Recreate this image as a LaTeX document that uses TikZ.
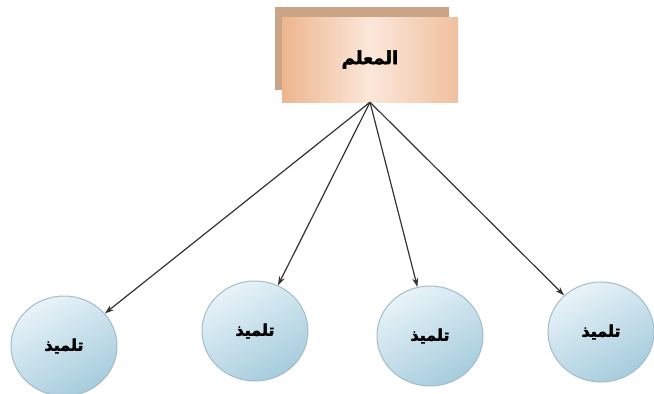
\documentclass[tikz,border=0pt]{standalone}
\usepackage{fontspec}
\newfontfamily\arabicfont[Script=Arabic,FakeBold=2.5]{DejaVu Sans}
\TeXXeTstate=1
\usetikzlibrary{shapes.geometric, arrows.meta,positioning}
\definecolor{boxlight}{HTML}{FBE7DA}
\definecolor{boxdark}{HTML}{EDB58E}
\definecolor{backtan}{HTML}{C9A486}
\definecolor{balllight}{HTML}{E8F3F8}
\definecolor{balldark}{HTML}{A6CCDD}
\definecolor{ballline}{HTML}{A3BCC9}
\tikzstyle{backbox} = [rectangle, minimum width=174pt, minimum height=83pt, inner sep=0pt, fill=backtan]
\tikzstyle{headbox} = [rectangle, minimum width=176pt, minimum height=85pt, inner sep=0pt, left color=boxdark, right color=boxdark!85, middle color=boxlight, font=\arabicfont\bfseries\fontsize{18}{21}\selectfont]
\tikzstyle{pupil} = [ellipse, minimum width=106pt, minimum height=100pt, inner sep=0pt, draw=ballline, line width=1pt, top color=balllight, bottom color=balldark, shading angle=30, font=\arabicfont\bfseries\fontsize{16}{19}\selectfont]
\tikzstyle{arrow} = [-{Stealth[length=9pt,width=6pt]}, draw=black!80, line width=1.2pt]

\begin{document}
\begin{tikzpicture}[x=1pt, y=-1pt]
   \useasboundingbox (0,0) rectangle (654,394);
   \node (back) [backbox] at (362,48.5) {};
   \node (teacher) [headbox] at (370,59.5) {\beginR المعلم\endR};
   \node (s1) [pupil] at (64,346) {\beginR تلميذ\endR};
   \node (s2) [pupil] at (255,331) {\beginR تلميذ\endR};
   \node (s3) [pupil] at (430,336) {\beginR تلميذ\endR};
   \node (s4) [pupil] at (601,332) {\beginR تلميذ\endR};
   \draw [arrow] (teacher.south) -- (s1);
   \draw [arrow] (teacher.south) -- (s2);
   \draw [arrow] (teacher.south) -- (s3);
   \draw [arrow] (teacher.south) -- (s4);
\end{tikzpicture}
\end{document}
